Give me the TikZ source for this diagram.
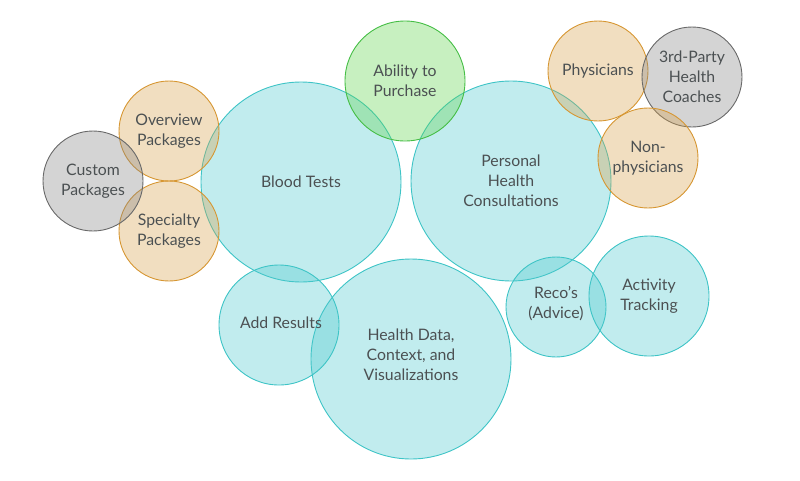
\documentclass[tikz,border=0pt]{standalone}
\usepackage{fontspec}
\setmainfont{Lato}
\definecolor{tealF}{RGB}{78,201,206}
\definecolor{tealD}{RGB}{62,196,198}
\definecolor{orF}{RGB}{215,161,75}
\definecolor{orD}{RGB}{214,150,50}
\definecolor{grF}{RGB}{132,132,132}
\definecolor{grD}{RGB}{105,105,105}
\definecolor{gnF}{RGB}{95,212,75}
\definecolor{gnD}{RGB}{70,190,70}
\definecolor{txt}{RGB}{75,80,82}
\tikzset{
  bub/.style={circle,inner sep=0pt,line width=0.9pt,align=center,text=txt,
    font=\fontsize{15.8}{20}\selectfont,fill opacity=0.35,text opacity=1,draw opacity=1},
  teal/.style={bub,fill=tealF,draw=tealD},
  orng/.style={bub,fill=orF,draw=orD},
  gray/.style={bub,fill=grF,draw=grD},
  grn/.style={bub,fill=gnF,draw=gnD},
  r50/.style={minimum size=100pt},
  r60/.style={minimum size=120pt},
  r100/.style={minimum size=200pt}
}
\begin{document}
\begin{tikzpicture}[x=1pt,y=-1pt]
\useasboundingbox (0,0) rectangle (800,480);
\node[teal,r100] (blood) at (301,182) {Blood Tests};
\node[teal,r100] (pers) at (511,181) {Personal\\Health\\Consultations};
\node[teal,r100] (data) at (411,359) {};
\node[text=txt,align=center,font=\fontsize{15.8}{20}\selectfont] (datat) at (411,355) {Health Data,\\Context, and\\Visualizations};
\node[teal,r60] (add) at (279,325) {};
\node[text=txt,font=\fontsize{15.8}{20}\selectfont] (addt) at (281,323) {Add Results};
\node[teal,r50] (reco) at (556,307) {};
\node[text=txt,align=center,font=\fontsize{15.8}{20}\selectfont] (recot) at (556,304) {Reco’s\\(Advice)};
\node[teal,r60] (act) at (649,296) {Activity\\Tracking};
\node[grn,r60] (abil) at (405,81) {Ability to\\Purchase};
\node[orng,r50] (over) at (169,131) {Overview\\Packages};
\node[orng,r50] (spec) at (169,231) {Specialty\\Packages};
\node[gray,r50] (cust) at (93,181) {Custom\\Packages};
\node[orng,r50] (phys) at (598,71) {Physicians};
\node[gray,r50] (coach) at (692,77) {3rd-Party\\Health\\Coaches};
\node[orng,r50] (nonp) at (648,158) {Non-\\physicians};
\end{tikzpicture}
\end{document}
